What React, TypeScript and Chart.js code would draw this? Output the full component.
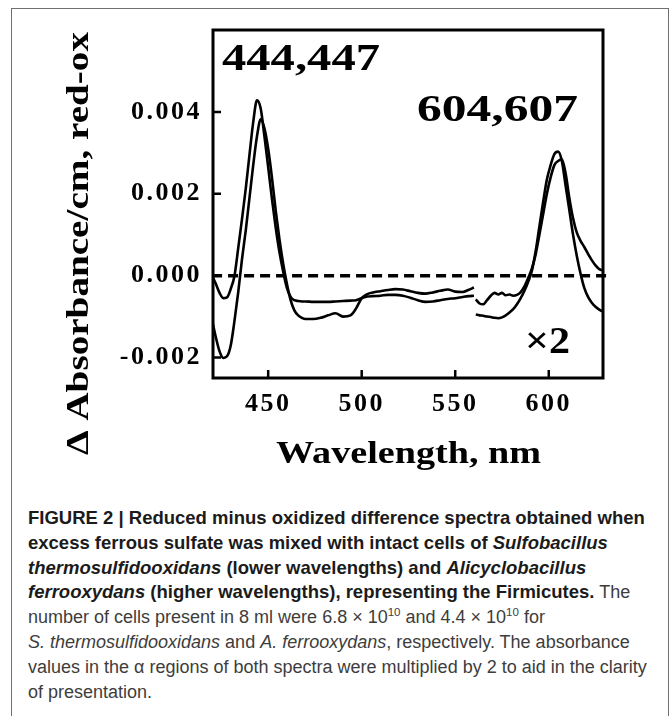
import React, { useEffect, useRef } from "react";
import { Chart, registerables } from "chart.js";

Chart.register(...registerables);

// ---- data ----
const SORET_WL = [420, 422, 424, 426, 428, 430, 432, 434, 436, 438, 440, 442, 444, 446, 448, 450, 452, 454, 456, 458, 460, 462, 464, 466, 468, 470, 474, 478, 482, 486, 490, 494, 497, 500, 503, 506, 510, 514, 518, 522, 526, 530, 534, 538, 542, 546, 550, 554, 557, 560];
const SORET_444 = [0.0, -0.0002, -0.00042, -0.00055, -0.00053, -0.00032, 0.0, 0.00068, 0.00138, 0.00212, 0.00295, 0.00375, 0.00428, 0.00408, 0.0034, 0.00265, 0.00188, 0.00118, 0.00058, 0.0001, -0.0003, -0.00052, -0.0006, -0.00062, -0.00063, -0.00063, -0.00064, -0.00064, -0.00064, -0.00063, -0.00062, -0.00061, -0.0006, -0.00055, -0.00051, -0.0005, -0.00049, -0.00047, -0.00047, -0.00049, -0.00054, -0.0006, -0.00064, -0.00063, -0.0006, -0.00057, -0.00055, -0.00052, -0.0005, -0.00049];
const SORET_447 = [-0.00108, -0.0015, -0.00185, -0.00201, -0.00197, -0.0017, -0.0011, -0.0004, 0.0004, 0.0011, 0.0019, 0.0027, 0.0034, 0.00382, 0.0036, 0.0031, 0.0024, 0.0016, 0.0009, 0.0003, -0.0002, -0.0006, -0.00085, -0.00097, -0.00103, -0.00106, -0.00106, -0.00103, -0.00097, -0.00092, -0.001, -0.00097, -0.0008, -0.00055, -0.00045, -0.00041, -0.00038, -0.00035, -0.00033, -0.00034, -0.00038, -0.00042, -0.00044, -0.00041, -0.00037, -0.00034, -0.00039, -0.0004, -0.00035, -0.00029];
const ALPHA_WL = [561, 563, 565, 567, 569, 571, 573, 575, 577, 579, 581, 583, 585, 587, 589, 591, 593, 595, 597, 599, 601, 603, 605, 607, 609, 611, 613, 615, 617, 619, 621, 623, 625, 627, 629, 630];
const ALPHA_604 = [-0.00095, -0.00097, -0.00098, -0.001, -0.00101, -0.00103, -0.00104, -0.00102, -0.00097, -0.0009, -0.00082, -0.0007, -0.00055, -0.00037, -0.00015, 0.00012, 0.0006, 0.0012, 0.0018, 0.00235, 0.0027, 0.00297, 0.00303, 0.0028, 0.0022, 0.0016, 0.001, 0.00048, 0.00005, -0.0003, -0.00052, -0.00066, -0.00076, -0.00083, -0.00088, -0.0009];
const ALPHA_607 = [-0.00058, -0.00068, -0.0007, -0.0006, -0.00049, -0.00042, -0.00046, -0.00042, -0.00048, -0.00046, -0.00049, -0.00047, -0.0004, -0.00026, -0.00006, 0.00018, 0.00052, 0.001, 0.0015, 0.002, 0.0024, 0.0027, 0.0028, 0.00284, 0.0025, 0.0019, 0.0014, 0.00105, 0.00085, 0.0007, 0.00053, 0.00038, 0.00025, 0.00016, 0.00013, 0.00027];
const ZERO_WL = [420, 632];
const ZERO_LINE = [0, 0];

const X_TICKS = [450, 500, 550, 600];
const Y_TICKS = [-0.002, 0, 0.002, 0.004];
const X_MIN = 420.5;
const X_MAX = 629;
const Y_MIN = -0.0025;
const Y_MAX = 0.006;

const X_TITLE = "Wavelength, nm";
const Y_TITLE = "\u0394 Absorbance/cm, red-ox";
const SORET_LABEL = "444,447";
const ALPHA_LABEL = "604,607";
const FACTOR_LABEL = "\u00d72";

const SERIF = "'Liberation Serif', 'Times New Roman', serif";

function toPoints(xs: number[], ys: number[]) {
  return xs.map((x, i) => ({ x, y: ys[i] }));
}

function drawStretched(
  ctx: CanvasRenderingContext2D,
  text: string,
  x: number,
  y: number,
  size: number,
  width: number,
  align: "left" | "center"
) {
  ctx.save();
  ctx.font = `bold ${size}px ${SERIF}`;
  ctx.letterSpacing = "0px";
  const w = ctx.measureText(text).width;
  const sx = width / w;
  ctx.translate(x, y);
  ctx.scale(sx, 1);
  ctx.textAlign = align;
  ctx.textBaseline = "alphabetic";
  ctx.fillStyle = "#000";
  ctx.fillText(text, 0, 0);
  ctx.restore();
}

const framePlugin = {
  id: "frameAndText",
  beforeDraw(chart: any) {
    chart.ctx.letterSpacing = "2.5px";
  },
  afterDraw(chart: any) {
    const ctx: CanvasRenderingContext2D = chart.ctx;
    ctx.letterSpacing = "0px";
    const { left, right, top, bottom } = chart.chartArea;
    const xs = chart.scales.x;
    const ys = chart.scales.y;
    ctx.save();
    ctx.strokeStyle = "#000";
    ctx.lineWidth = 3;
    ctx.strokeRect(left, top, right - left, bottom - top);
    ctx.lineWidth = 2.5;
    ctx.beginPath();
    xs.ticks.forEach((t: any) => {
      const px = xs.getPixelForValue(t.value);
      ctx.moveTo(px, bottom);
      ctx.lineTo(px, bottom - 8);
    });
    ys.ticks.forEach((t: any) => {
      const py = ys.getPixelForValue(t.value);
      ctx.moveTo(left, py);
      ctx.lineTo(left + 8, py);
    });
    ctx.stroke();
    ctx.restore();

    // axis titles
    drawStretched(ctx, X_TITLE, (left + right) / 2 + 0.5, bottom + 85, 32, 265, "center");
    ctx.save();
    ctx.translate(88, top + 213.5);
    ctx.rotate(-Math.PI / 2);
    drawStretched(ctx, Y_TITLE, 0, 0, 32, 423, "center");
    ctx.restore();

    // annotations
    drawStretched(ctx, SORET_LABEL, left + 9, top + 40, 38, 158, "left");
    drawStretched(ctx, ALPHA_LABEL, left + 204, top + 91, 38, 161, "left");
    drawStretched(ctx, FACTOR_LABEL, left + 312, top + 323, 38, 45, "left");
  },
};

function App() {
  const ref = useRef<HTMLCanvasElement | null>(null);

  useEffect(() => {
    if (!ref.current) return;
    const line = (data: any) => ({
      data,
      borderColor: "#000",
      borderWidth: 2.6,
      pointRadius: 0,
      fill: false,
      cubicInterpolationMode: "monotone" as const,
    });
    const chart = new Chart(ref.current, {
      type: "line",
      data: {
        datasets: [
          line(toPoints(SORET_WL, SORET_444)),
          line(toPoints(SORET_WL, SORET_447)),
          line(toPoints(ALPHA_WL, ALPHA_604)),
          line(toPoints(ALPHA_WL, ALPHA_607)),
          {
            data: toPoints(ZERO_WL, ZERO_LINE),
            borderColor: "#000",
            borderWidth: 3.5,
            borderDash: [10, 6],
            pointRadius: 0,
            fill: false,
            clip: { left: 0, top: 0, right: 6, bottom: 0 },
          } as any,
        ],
      },
      options: {
        responsive: false,
        animation: false,
        events: [],
        layout: { padding: { left: 0, top: 30, right: 67, bottom: 0 } },
        plugins: { legend: { display: false }, tooltip: { enabled: false } },
        scales: {
          x: {
            type: "linear",
            min: X_MIN,
            max: X_MAX,
            grid: { display: false, drawTicks: false },
            border: { display: false },
            afterBuildTicks: (s: any) => {
              s.ticks = X_TICKS.map((v) => ({ value: v }));
            },
            afterFit: (s: any) => {
              s.height = 112;
            },
            ticks: {
              padding: 11,
              color: "#000",
              maxRotation: 0,
              font: { family: SERIF, size: 26, weight: "bold" },
              callback: (v: any) => String(v),
            },
          },
          y: {
            type: "linear",
            min: Y_MIN,
            max: Y_MAX,
            grid: { display: false, drawTicks: false },
            border: { display: false },
            afterBuildTicks: (s: any) => {
              s.ticks = Y_TICKS.map((v) => ({ value: v }));
            },
            afterFit: (s: any) => {
              s.width = 213;
            },
            ticks: {
              padding: 11,
              color: "#000",
              font: { family: SERIF, size: 26, weight: "bold" },
              callback: (v: any) => Number(v).toFixed(3),
            },
          },
        },
      },
      plugins: [framePlugin as any],
    });
    return () => chart.destroy();
  }, []);

  const bold = { fontWeight: 700, color: "#1b1b1b", fontSize: "18.5px" } as React.CSSProperties;
  const lineStyle = { whiteSpace: "nowrap" } as React.CSSProperties;
  const sup = { fontSize: "11.5px", lineHeight: 0, verticalAlign: "7px" } as React.CSSProperties;

  return (
    <div style={{ position: "absolute", left: 0, top: 0, width: 670, height: 716, overflow: "hidden", background: "#fff" }}>
      <div
        style={{
          position: "absolute",
          left: 11,
          top: 8,
          width: 658,
          height: 760,
          boxSizing: "border-box",
          border: "1px solid #707070",
          borderBottom: "none",
        }}
      />
      <canvas ref={ref} width={670} height={490} style={{ position: "absolute", left: 0, top: 0, width: 670, height: 490 }} />
      <div
        style={{
          position: "absolute",
          left: 28,
          top: 506,
          fontFamily: "'Liberation Sans', Arial, Helvetica, sans-serif",
          fontSize: "18px",
          lineHeight: "24.8px",
          color: "#3d3d3d",
        }}
      >
        <div style={{ ...lineStyle, ...bold }}>FIGURE 2 | Reduced minus oxidized difference spectra obtained when</div>
        <div style={{ ...lineStyle, ...bold }}>
          excess ferrous sulfate was mixed with intact cells of <i>Sulfobacillus</i>
        </div>
        <div style={{ ...lineStyle, ...bold }}>
          <i>thermosulfidooxidans</i> (lower wavelengths) and <i>Alicyclobacillus</i>
        </div>
        <div style={lineStyle}>
          <span style={bold}>
            <i>ferrooxydans</i> (higher wavelengths), representing the Firmicutes.
          </span>{" "}
          The
        </div>
        <div style={lineStyle}>
          number of cells present in 8 ml were 6.8 × 10<sup style={sup}>10</sup> and 4.4 × 10<sup style={sup}>10</sup> for
        </div>
        <div style={lineStyle}>
          <i>S. thermosulfidooxidans</i> and <i>A. ferrooxydans</i>, respectively. The absorbance
        </div>
        <div style={lineStyle}>values in the α regions of both spectra were multiplied by 2 to aid in the clarity</div>
        <div style={lineStyle}>of presentation.</div>
      </div>
    </div>
  );
}

export default App;
